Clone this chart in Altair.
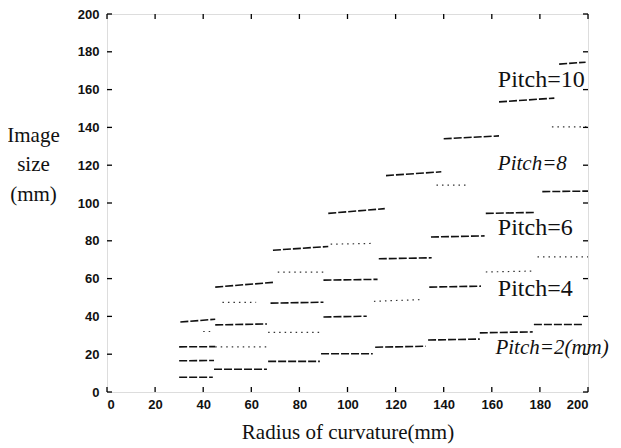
import altair as alt
import pandas as pd

# ---------------- data ----------------
x_ticks = [0, 20, 40, 60, 80, 100, 120, 140, 160, 180, 200]
y_ticks = [0, 20, 40, 60, 80, 100, 120, 140, 160, 180, 200]

# staircase segments per pitch: start/end radius, start/end image size, faint (dotted) flag
p2_x1 = [30, 44.5, 67, 89, 111.5, 133.5, 155, 177.5]
p2_x2 = [44, 66.5, 88.5, 110.5, 132.5, 155, 177, 198]
p2_y1 = [7.8, 12, 16.2, 20.2, 23.7, 27.5, 31.3, 35.7]
p2_y2 = [7.8, 12, 16.2, 20.2, 24.2, 28, 31.8, 35.7]
p2_faint = [0, 0, 0, 0, 0, 0, 0, 0]

p4_x1 = [30, 45, 67, 90, 111, 134, 157.5, 179]
p4_x2 = [44.5, 66.5, 89.5, 108, 131, 155.5, 177.5, 200]
p4_y1 = [16.5, 23.9, 31.6, 39.7, 48, 55.5, 63.5, 71.5]
p4_y2 = [16.7, 23.9, 31.6, 40.1, 48.9, 56, 64, 71.5]
p4_faint = [0, 1, 1, 0, 1, 0, 1, 1]

p6_x1 = [30, 45, 68, 90, 113, 134.7, 157.5, 181]
p6_x2 = [45, 66.5, 90, 112.5, 135, 157, 177.5, 200]
p6_y1 = [23.9, 35.5, 47, 59.2, 70.5, 82, 94.5, 106]
p6_y2 = [24, 36, 47.5, 59.6, 71, 82.6, 95, 106.3]
p6_faint = [0, 0, 0, 0, 0, 0, 0, 0]

p8_x1 = [40, 48, 71, 93, 137, 185]
p8_x2 = [44.5, 62, 90, 110, 150, 200]
p8_y1 = [32, 47.4, 63.4, 78.2, 109.5, 140.3]
p8_y2 = [32, 47.4, 63.4, 78.6, 109.5, 140.3]
p8_faint = [1, 1, 1, 1, 1, 1]

p10_x1 = [30.5, 45, 69, 92, 116, 140, 163, 188]
p10_x2 = [45, 69, 92, 115.5, 139, 163, 186, 199]
p10_y1 = [37, 55.5, 75, 94.5, 114.5, 134, 153.5, 173.5]
p10_y2 = [38.5, 58, 77, 97, 116.5, 135.5, 155.5, 174.5]
p10_faint = [0, 0, 0, 0, 0, 0, 0, 0]

label_text = ["Pitch=10", "Pitch=8", "Pitch=6", "Pitch=4", "Pitch=2(mm)"]
label_x = [162.5, 162.5, 162.5, 162.5, 161.5]
label_y = [165, 120.5, 87, 54.5, 23.5]
label_italic = [0, 1, 0, 0, 1]

# ---------------- tables ----------------
rows = []
for p, xs1, xs2, ys1, ys2, fs in [
    (2, p2_x1, p2_x2, p2_y1, p2_y2, p2_faint),
    (4, p4_x1, p4_x2, p4_y1, p4_y2, p4_faint),
    (6, p6_x1, p6_x2, p6_y1, p6_y2, p6_faint),
    (8, p8_x1, p8_x2, p8_y1, p8_y2, p8_faint),
    (10, p10_x1, p10_x2, p10_y1, p10_y2, p10_faint),
]:
    for a, b, c, d, f in zip(xs1, xs2, ys1, ys2, fs):
        rows.append({"pitch": p, "x1": a, "x2": b, "y1": c, "y2": d, "faint": f})
segs = pd.DataFrame(rows)
labels = pd.DataFrame({"text": label_text, "x": label_x, "y": label_y, "italic": label_italic})
xt = pd.DataFrame({"v": x_ticks})
yt = pd.DataFrame({"v": y_ticks})

W, H = 481, 378
xs = alt.Scale(domain=[0, 200], nice=False, zero=False)
ys = alt.Scale(domain=[0, 200], nice=False, zero=False)

xaxis = alt.Axis(values=x_ticks, tickSize=0, domain=False, grid=False, labelPadding=6,
                 labelOverlap=False,
                 labelFont="Liberation Sans", labelFontSize=13, labelFontWeight="bold",
                 labelColor="#111", title="Radius of curvature(mm)", titleFont="Liberation Serif",
                 titleFontSize=21, titleFontWeight="normal", titleColor="#111", titlePadding=10)
yaxis = alt.Axis(values=y_ticks, tickSize=0, domain=False, grid=False, labelPadding=8,
                 labelOverlap=False,
                 labelFont="Liberation Sans", labelFontSize=13, labelFontWeight="bold",
                 labelColor="#111", title=["Image", "size", "(mm)"], titleFont="Liberation Serif",
                 titleFontSize=21, titleFontWeight="normal", titleColor="#111", titleAngle=0,
                 titleAlign="center", titleBaseline="top", titleX=-74, titleY=110,
                 titleLineHeight=29.5)


def X(f):
    return alt.X(f, scale=xs, axis=xaxis)


def Y(f):
    return alt.Y(f, scale=ys, axis=yaxis)


main = alt.Chart(segs).transform_filter("datum.faint == 0").mark_rule(
    color="#111", strokeWidth=1.6, strokeDash=[8, 2]
).encode(x=X("x1:Q"), x2="x2:Q", y=Y("y1:Q"), y2="y2:Q")
faint = alt.Chart(segs).transform_filter("datum.faint == 1").mark_rule(
    color="#333", strokeWidth=1.2, strokeDash=[1.5, 4]
).encode(x=X("x1:Q"), x2="x2:Q", y=Y("y1:Q"), y2="y2:Q")

txt_up = alt.Chart(labels).transform_filter("datum.italic == 0").mark_text(
    align="left", baseline="middle", font="Liberation Serif", fontSize=24, color="#111"
).encode(x=X("x:Q"), y=Y("y:Q"), text="text:N")
txt_it = alt.Chart(labels).transform_filter("datum.italic == 1").mark_text(
    align="left", baseline="middle", font="Liberation Serif", fontSize=21, color="#111",
    fontStyle="italic"
).encode(x=X("x:Q"), y=Y("y:Q"), text="text:N")

tick_len = 5
t_bottom = alt.Chart(xt).mark_rule(color="black", strokeWidth=1.3).encode(
    x=X("v:Q"), y=alt.value(H), y2=alt.value(H - tick_len))
t_top = alt.Chart(xt).mark_rule(color="black", strokeWidth=1.3).encode(
    x=X("v:Q"), y=alt.value(0), y2=alt.value(tick_len))
t_left = alt.Chart(yt).mark_rule(color="black", strokeWidth=1.3).encode(
    y=Y("v:Q"), x=alt.value(0), x2=alt.value(tick_len))
t_right = alt.Chart(yt).mark_rule(color="black", strokeWidth=1.3).encode(
    y=Y("v:Q"), x=alt.value(W), x2=alt.value(W - tick_len))

chart = alt.layer(main, faint, t_bottom, t_top, t_left, t_right, txt_up, txt_it).properties(
    width=W, height=H,
    autosize=alt.AutoSizeParams(type="none"),
    padding={"left": 99, "top": 6, "right": 25, "bottom": 54},
).configure_view(stroke="black", strokeWidth=1.5).configure(background="white")

chart.save("out.html", embed_options={"renderer": "svg", "actions": False})
